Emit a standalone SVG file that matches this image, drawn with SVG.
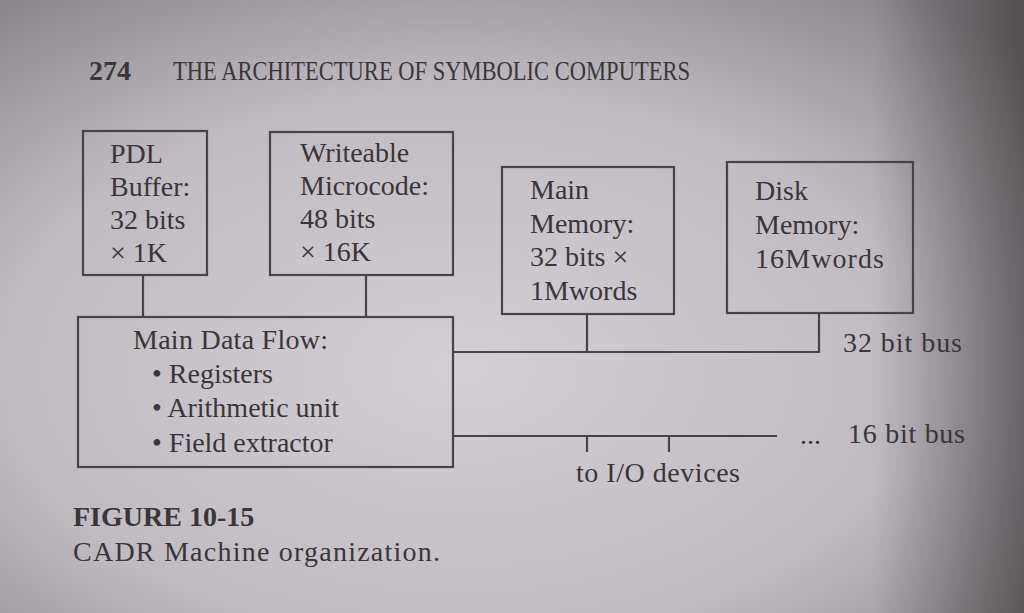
<svg xmlns="http://www.w3.org/2000/svg" width="1024" height="613" viewBox="0 0 1024 613">
<defs>
<radialGradient id="bg" cx="0.45" cy="0.6" r="0.75">
<stop offset="0" stop-color="#d3cfd5"/>
<stop offset="0.6" stop-color="#c0bbc1"/>
<stop offset="1" stop-color="#8a8589"/>
</radialGradient>
<linearGradient id="edge" x1="0" y1="0" x2="1" y2="0">
<stop offset="0.85" stop-color="#000" stop-opacity="0"/>
<stop offset="1" stop-color="#000" stop-opacity="0.4"/>
</linearGradient>
<style>
.t{font-family:"Liberation Serif","Times New Roman",serif;fill:#3a3539;font-size:28px}
.b{stroke:#48434a;stroke-width:2.2;fill:none}
.c{stroke:#48434a;stroke-width:2.2;fill:none}
</style>
</defs>
<rect width="1024" height="613" fill="url(#bg)"/>
<rect width="1024" height="613" fill="url(#edge)"/>
<g id="header">
<text class="t" x="89" y="80" font-weight="bold" font-size="32">274</text>
<text class="t" x="173" y="80" font-size="19" textLength="517" lengthAdjust="spacingAndGlyphs">THE ARCHITECTURE OF SYMBOLIC COMPUTERS</text>
</g>
<g id="connectors">
<path class="c" d="M143 275V318M366 275V318"/>
<path class="c" d="M453 352H819V313M587 314V352"/>
<path class="c" d="M453 436H777M587 436V452M669 436V452"/>
</g>
<g id="pdl">
<rect class="b" x="83" y="131" width="124" height="144"/>
<text class="t" x="110" y="163">PDL</text>
<text class="t" x="110" y="196">Buffer:</text>
<text class="t" x="110" y="229">32 bits</text>
<text class="t" x="110" y="262">× 1K</text>
</g>
<g id="microcode">
<rect class="b" x="270" y="132" width="183" height="143"/>
<text class="t" x="300" y="162">Writeable</text>
<text class="t" x="300" y="195">Microcode:</text>
<text class="t" x="300" y="228">48 bits</text>
<text class="t" x="300" y="261">× 16K</text>
</g>
<g id="mainmem">
<rect class="b" x="502" y="167" width="172" height="147"/>
<text class="t" x="530" y="199">Main</text>
<text class="t" x="530" y="233">Memory:</text>
<text class="t" x="530" y="266">32 bits ×</text>
<text class="t" x="530" y="300">1Mwords</text>
</g>
<g id="disk">
<rect class="b" x="727" y="162" width="186" height="151"/>
<text class="t" x="755" y="200">Disk</text>
<text class="t" x="755" y="234">Memory:</text>
<text class="t" x="755" y="268" font-size="29" textLength="129">16Mwords</text>
</g>
<g id="dataflow">
<rect class="b" x="78" y="317" width="375" height="150"/>
<text class="t" x="133" y="349" font-size="27" textLength="195">Main Data Flow:</text>
<text class="t" x="152" y="383" font-size="27">• Registers</text>
<text class="t" x="152" y="417" font-size="27">• Arithmetic unit</text>
<text class="t" x="152" y="452" font-size="27">• Field extractor</text>
</g>
<g id="labels">
<text class="t" x="843" y="352" font-size="29" textLength="119">32 bit bus</text>
<text class="t" x="800" y="444" font-size="22">...</text>
<text class="t" x="848" y="443" font-size="29" textLength="117">16 bit bus</text>
<text class="t" x="576" y="482" font-size="28" textLength="164">to I/O devices</text>
</g>
<g id="caption">
<text class="t" x="73" y="526" font-weight="bold" font-size="26">FIGURE 10-15</text>
<text class="t" x="73" y="561" font-size="32" textLength="367">CADR Machine organization.</text>
</g>
</svg>
